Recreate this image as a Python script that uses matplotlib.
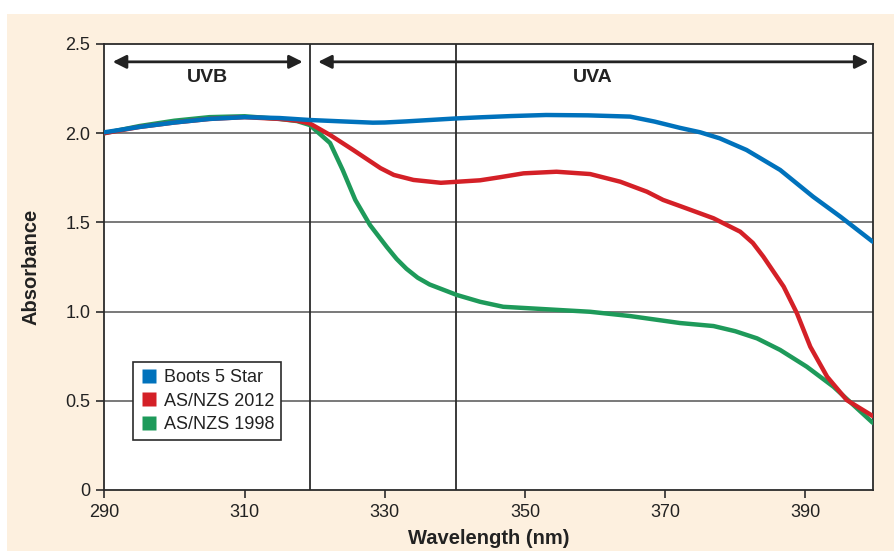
import matplotlib.pyplot as plt
from matplotlib.patches import Rectangle
from matplotlib.lines import Line2D

plt.rcParams['font.family'] = ['Liberation Sans', 'DejaVu Sans']

# wavelength (nm) and absorbance
wl_boots = [290, 295, 300, 305, 310, 315, 319.3, 324, 328.3, 330, 333, 340.3, 343.6, 348, 353, 359, 365,
            368.5, 372.1, 375, 377.8, 381.6, 386.4, 391.1, 395, 399.6]
abs_boots = [2.005, 2.035, 2.06, 2.08, 2.09, 2.085, 2.074, 2.066, 2.059, 2.06, 2.066, 2.083, 2.089, 2.096,
             2.102, 2.10, 2.093, 2.065, 2.03, 2.005, 1.971, 1.906, 1.794, 1.644, 1.532, 1.392]

wl_2012 = [290, 295, 300, 305, 310, 315, 317.5, 319.3, 322.2, 325.5, 329.4, 331.3, 334.1, 338, 343.6,
           346.4, 349.8, 354.5, 359.3, 363.6, 367.4, 369.7, 372.1, 376.9, 380.7, 382.5, 384, 386.9, 388.8,
           390.7, 393.1, 395.9, 399.6]
abs_2012 = [2.0, 2.035, 2.06, 2.08, 2.09, 2.08, 2.07, 2.055, 1.99, 1.906, 1.804, 1.766, 1.738, 1.722,
            1.736, 1.753, 1.775, 1.784, 1.771, 1.728, 1.672, 1.626, 1.592, 1.523, 1.448, 1.385, 1.308,
            1.14, 0.99, 0.803, 0.635, 0.504, 0.415]

wl_1998 = [290, 295, 300, 305, 310, 315, 317.5, 319.3, 322.2, 324, 325.8, 327.9, 330.3, 331.7, 333.1,
           334.7, 336.4, 340.3, 343.6, 346.9, 353.1, 359.3, 365, 372.1, 376.9, 380, 383.1, 386.4, 390.2,
           394, 399.6]
abs_1998 = [2.0, 2.04, 2.07, 2.09, 2.095, 2.08, 2.068, 2.046, 1.945, 1.794, 1.626, 1.485, 1.362, 1.295,
            1.24, 1.19, 1.152, 1.093, 1.055, 1.027, 1.013, 0.999, 0.975, 0.936, 0.919, 0.89, 0.85, 0.785,
            0.691, 0.579, 0.377]

series = [('AS/NZS 1998', wl_1998, abs_1998, '#1e9a5a'),
          ('AS/NZS 2012', wl_2012, abs_2012, '#d42027'),
          ('Boots 5 Star', wl_boots, abs_boots, '#0072bc')]
legend_order = ['Boots 5 Star', 'AS/NZS 2012', 'AS/NZS 1998']

x_ticks = [290, 310, 330, 350, 370, 390]
y_ticks = [0, 0.5, 1.0, 1.5, 2.0, 2.5]
y_ticklabels = ['0', '0.5', '1.0', '1.5', '2.0', '2.5']
band_edges = [319.4, 340.2]

W, H = 894, 551
fig = plt.figure(figsize=(W / 100, H / 100), dpi=100, facecolor='white')
fig.patches.append(Rectangle((7 / W, 0), 1 - 7 / W, 1 - 14 / H, transform=fig.transFigure,
                             facecolor='#fdf0df', edgecolor='none', zorder=-10))
ax = fig.add_axes([104.3 / W, 1 - 490 / H, 768.4 / W, 446 / H])
ax.set_facecolor('white')

dark = '#2b2b2b'
for y in y_ticks[1:-1]:
    ax.axhline(y, color='#555555', lw=1.1, zorder=1)
for x in band_edges:
    ax.axvline(x, color=dark, lw=1.3, zorder=1)

colors = {}
for name, xs, ys, col in series:
    ax.plot(xs, ys, color=col, lw=3.2, solid_joinstyle='round', solid_capstyle='round', zorder=3)
    colors[name] = col

# band arrows
arrow_kw = dict(arrowstyle='<|-|>', color='#222222', lw=2.0, mutation_scale=20, shrinkA=0, shrinkB=0)
ax.annotate('', xy=(291.2, 2.40), xytext=(318.3, 2.40), arrowprops=arrow_kw)
ax.annotate('', xy=(320.5, 2.40), xytext=(399.0, 2.40), arrowprops=arrow_kw)
ax.text(304.7, 2.315, 'UVB', ha='center', va='center', fontsize=14, fontweight='bold', color='#222222')
ax.text(359.7, 2.315, 'UVA', ha='center', va='center', fontsize=14, fontweight='bold', color='#222222')

ax.set_xlim(290, 399.6)
ax.set_ylim(0, 2.5)
ax.set_xticks(x_ticks)
ax.set_yticks(y_ticks)
ax.set_yticklabels(y_ticklabels)
ax.tick_params(axis='both', direction='out', length=6, width=1.2, color=dark, labelsize=13,
               labelcolor='#222222', pad=4)
for s in ax.spines.values():
    s.set_color(dark)
    s.set_linewidth(1.3)

ax.set_xlabel('Wavelength (nm)', fontsize=14.5, fontweight='bold', color='#222222', labelpad=6)
ax.set_ylabel('Absorbance', fontsize=14.5, fontweight='bold', color='#222222', labelpad=18)

leg_handles = [Line2D([], [], marker='s', ls='none', markersize=10, markerfacecolor=colors[n],
                      markeredgecolor='none') for n in legend_order]
leg = ax.legend(leg_handles, legend_order, loc='upper left', bbox_to_anchor=(0.0374, 0.287),
                fontsize=13, frameon=True, fancybox=False, edgecolor=dark, framealpha=1,
                handletextpad=0.3, handlelength=1.0, borderpad=0.4, labelspacing=0.35,
                borderaxespad=0)
leg.get_frame().set_linewidth(1.2)
for t in leg.get_texts():
    t.set_color('#222222')

fig.savefig('out.png', dpi=100, facecolor=fig.get_facecolor())
